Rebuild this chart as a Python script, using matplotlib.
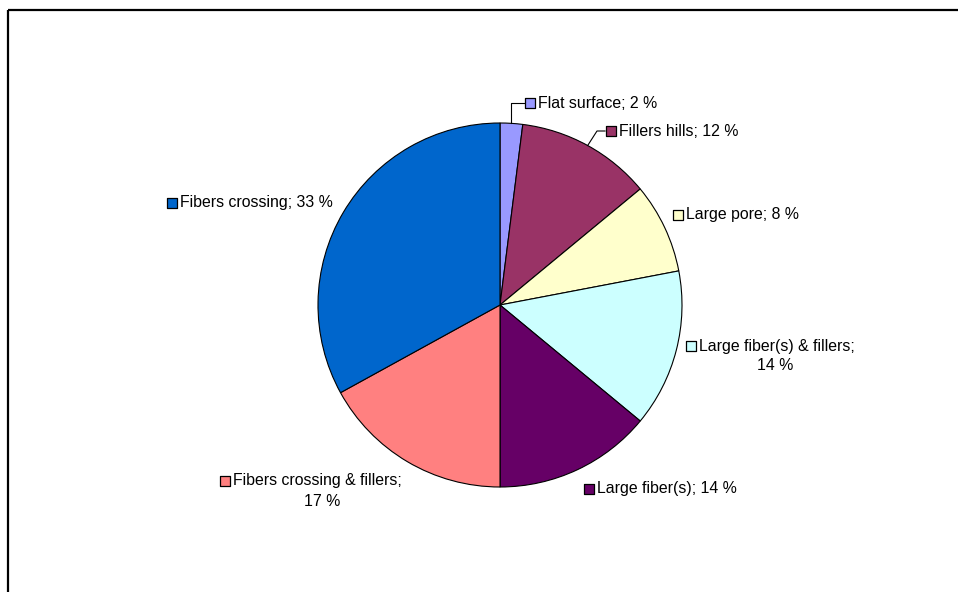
import matplotlib
matplotlib.use("Agg")
import matplotlib.pyplot as plt
import numpy as np

categories = ["Flat surface", "Fillers hills", "Large pore", "Large fiber(s) & fillers",
              "Large fiber(s)", "Fibers crossing & fillers", "Fibers crossing"]
values = [2, 12, 8, 14, 14, 17, 33]
colors = ["#9999FF", "#993366", "#FFFFCC", "#CCFFFF", "#660066", "#FF8080", "#0066CC"]

W, H = 958, 592
fig = plt.figure(figsize=(W / 100, H / 100), dpi=100)
ax = fig.add_axes([0, 0, 1, 1])
ax.set_xlim(0, W)
ax.set_ylim(0, H)
ax.set_aspect("equal")
ax.axis("off")

def Y(py):
    return H - py

cx, cy, r = 500, Y(305), 182
ax.pie(values, colors=colors, startangle=90, counterclock=False, center=(cx, cy), radius=r,
       wedgeprops=dict(edgecolor="black", linewidth=0.8), frame=True)
ax.set_xlim(0, W)
ax.set_ylim(0, H)
ax.axis("off")

# frame lines (chart area border, partly cropped)
ax.plot([8, W], [Y(10), Y(10)], color="black", lw=1.6, solid_capstyle="butt")
ax.plot([8, 8], [Y(10), 0], color="black", lw=1.6, solid_capstyle="butt")

font = dict(family="Liberation Sans", fontsize=11.4, color="black")

# label layout: (square x, y px, second line centre x or None)
layout = [
    (530, 103, None),
    (611, 131, None),
    (678, 215, None),
    (691, 346, 775),
    (589, 489, None),
    (225, 481, 322),
    (172, 203, None),
]

for i, (cat, val, col) in enumerate(zip(categories, values, colors)):
    sx, sy, cx2 = layout[i]
    ax.scatter([sx], [Y(sy)], marker="s", s=62, facecolor=col, edgecolor="black",
               linewidth=0.9, zorder=5)
    if cx2 is None:
        ax.text(sx + 8, Y(sy), f"{cat}; {val} %", ha="left", va="center", **font)
    else:
        ax.text(sx + 8, Y(sy), f"{cat};", ha="left", va="center", **font)
        ax.text(cx2, Y(sy + 20), f"{val} %", ha="center", va="center", **font)

# leader lines for the small top slices
cum = np.cumsum([0] + values)
def edge_point(i):
    mid = 90 - (cum[i] + values[i] / 2) / 100 * 360
    a = np.deg2rad(mid)
    return cx + r * np.cos(a), cy + r * np.sin(a)

ex, ey = edge_point(0)
ax.plot([ex, ex, 524], [ey, Y(103), Y(103)], color="black", lw=0.8)
ex, ey = edge_point(1)
ax.plot([ex, 597, 605], [ey, Y(131), Y(131)], color="black", lw=0.8)

fig.savefig("out.png", dpi=100, facecolor="white")
